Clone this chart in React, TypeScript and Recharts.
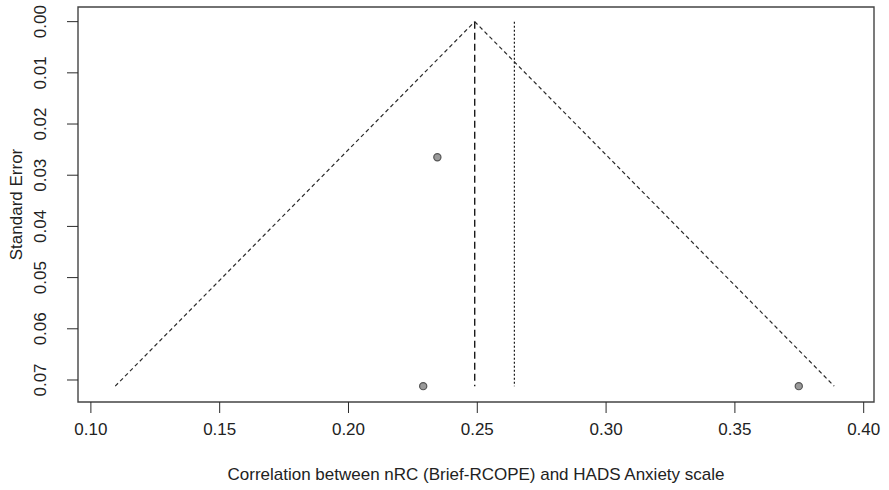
import {
  ComposedChart,
  Scatter,
  XAxis,
  YAxis,
  ReferenceLine,
  ReferenceArea,
} from "recharts";

// study correlations and their standard errors
const studyR = [0.2345, 0.229, 0.3748];
const studySE = [0.0265, 0.0712, 0.0712];

// pooled estimates (fixed = dashed, random = dotted)
const fixedEstimate = 0.249;
const randomEstimate = 0.2644;
const funnelMaxSE = 0.0712;

const xTicks = [0.1, 0.15, 0.2, 0.25, 0.3, 0.35, 0.4];
const yTicks = [0, 0.01, 0.02, 0.03, 0.04, 0.05, 0.06, 0.07];
const xDomain = [0.095, 0.404];
const yDomain = [-0.00286, 0.0743];

const FONT = "'Liberation Sans', Arial, sans-serif";
const INK = "#2a2a2a";

const points = studyR.map((r, i) => ({ x: r, y: studySE[i] }));
const funnelLeft = fixedEstimate - 1.96 * funnelMaxSE;
const funnelRight = fixedEstimate + 1.96 * funnelMaxSE;

const XTick = (props: any) => {
  const { x, y, payload } = props;
  return (
    <text
      x={x}
      y={y + 20}
      textAnchor="middle"
      fontFamily={FONT}
      fontSize={17}
      fill="#222"
    >
      {payload.value.toFixed(2)}
    </text>
  );
};

const YTick = (props: any) => {
  const { x, y, payload } = props;
  const cx = x - 19;
  return (
    <text
      x={cx}
      y={y}
      transform={`rotate(-90 ${cx} ${y})`}
      textAnchor="middle"
      fontFamily={FONT}
      fontSize={17}
      fill="#222"
    >
      {payload.value.toFixed(2)}
    </text>
  );
};

export default function App() {
  return (
    <div style={{ position: "absolute", left: 0, top: 0, background: "#fff" }}>
      <ComposedChart
        width={889}
        height={490}
        margin={{ top: 7, right: 15, left: 0, bottom: 0 }}
      >
        <XAxis
          type="number"
          dataKey="x"
          domain={xDomain}
          ticks={xTicks}
          allowDataOverflow
          height={88}
          tickSize={11}
          tickLine={{ stroke: INK }}
          axisLine={false}
          tick={<XTick />}
          label={{
            value: "Correlation between nRC (Brief-RCOPE) and HADS Anxiety scale",
            position: "insideBottom",
            offset: 10,
            fontFamily: FONT,
            fontSize: 17,
            fill: "#222",
          }}
        />
        <YAxis
          type="number"
          dataKey="y"
          reversed
          domain={yDomain}
          ticks={yTicks}
          allowDataOverflow
          width={78}
          tickSize={11}
          tickLine={{ stroke: INK }}
          axisLine={false}
          tick={<YTick />}
          label={{
            value: "Standard Error",
            angle: -90,
            position: "insideLeft",
            offset: 16,
            fontFamily: FONT,
            fontSize: 17,
            fill: "#222",
            style: { textAnchor: "middle" },
          }}
        />
        <ReferenceArea
          x1={xDomain[0]}
          x2={xDomain[1]}
          y1={yDomain[0]}
          y2={yDomain[1]}
          fill="none"
          stroke="#444"
          strokeWidth={1.4}
        />
        <ReferenceLine
          segment={[
            { x: funnelLeft, y: funnelMaxSE },
            { x: fixedEstimate, y: 0 },
          ]}
          stroke={INK}
          strokeWidth={1.2}
          strokeDasharray="4 3"
        />
        <ReferenceLine
          segment={[
            { x: fixedEstimate, y: 0 },
            { x: funnelRight, y: funnelMaxSE },
          ]}
          stroke={INK}
          strokeWidth={1.2}
          strokeDasharray="4 3"
        />
        <ReferenceLine
          segment={[
            { x: fixedEstimate, y: 0 },
            { x: fixedEstimate, y: funnelMaxSE },
          ]}
          stroke="#1a1a1a"
          strokeWidth={1.4}
          strokeDasharray="7 4"
        />
        <ReferenceLine
          segment={[
            { x: randomEstimate, y: 0 },
            { x: randomEstimate, y: funnelMaxSE },
          ]}
          stroke="#1a1a1a"
          strokeWidth={1.2}
          strokeDasharray="2 2"
        />
        <Scatter
          data={points}
          isAnimationActive={false}
          shape={(p: any) => (
            <circle
              cx={p.cx}
              cy={p.cy}
              r={3.6}
              fill="#9a9a9a"
              stroke="#555"
              strokeWidth={1.2}
            />
          )}
        />
      </ComposedChart>
    </div>
  );
}
